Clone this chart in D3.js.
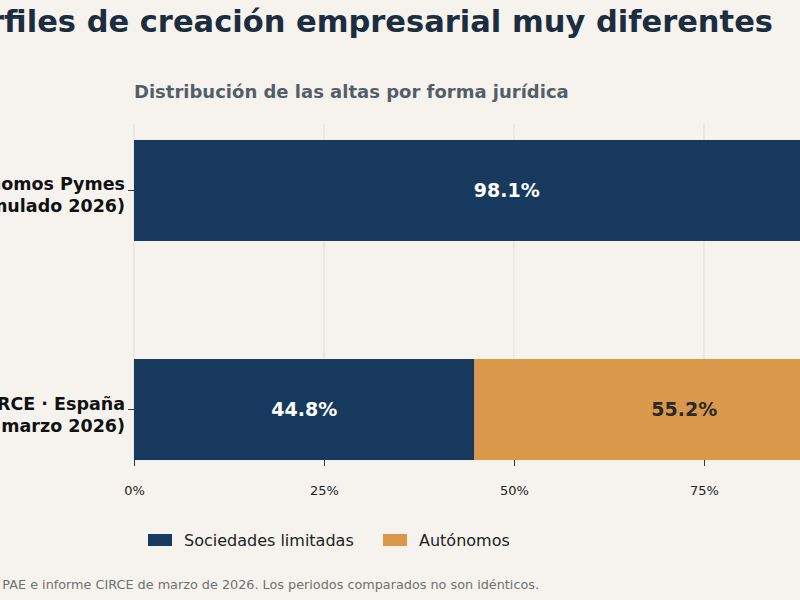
<!DOCTYPE html>
<html><head><meta charset="utf-8">
<script src="https://cdn.jsdelivr.net/npm/d3@7"></script>
<style>body{margin:0;background:#f6f3ee}svg{display:block;font-family:"DejaVu Sans",sans-serif}</style>
</head><body><svg id="c" width="800" height="600"></svg>
<script>
const categories = [["Autónomos Pymes","(acumulado 2026)"],["CIRCE · España","(marzo 2026)"]];
const seriesNames = ["Sociedades limitadas","Autónomos"];
const sociedades = [98.1, 44.8];
const autonomos = [1.9, 55.2];
const ticks = [0,25,50,75,100];
const colors = ["#17395d","#d9984a"];

const svg = d3.select("#c");
svg.append("rect").attr("width",800).attr("height",600).attr("fill","#f6f3ee");
const x = d3.scaleLinear().domain([0,100]).range([134,894]);
const y = d3.scaleBand().domain([0,1]).range([124,476]).paddingInner(0.539).paddingOuter(0.073);

svg.append("text").attr("x",773).attr("y",32).attr("text-anchor","end").attr("font-size",30.5).attr("font-weight","bold").attr("fill","#1b2d3e").text("Perfiles de creación empresarial muy diferentes");
svg.append("text").attr("x",134).attr("y",98).attr("font-size",18).attr("font-weight","bold").attr("fill","#545e68").text("Distribución de las altas por forma jurídica");

svg.selectAll(".g").data(ticks).join("line").attr("x1",d=>x(d)).attr("x2",d=>x(d)).attr("y1",124).attr("y2",460).attr("stroke","#e2ddd5").attr("stroke-width",1);

const stacks = [sociedades, autonomos];
stacks.forEach((vals,si)=>{
  vals.forEach((v,i)=>{
    const start = si===0?0:sociedades[i];
    svg.append("rect").attr("x",x(start)).attr("y",y(i)).attr("width",x(start+v)-x(start)).attr("height",y.bandwidth()).attr("fill",colors[si]);
    if(v>5) svg.append("text").attr("x",(x(start)+x(start+v))/2).attr("y",y(i)+y.bandwidth()/2).attr("dy","0.35em").attr("text-anchor","middle").attr("font-size",19).attr("font-weight","bold").attr("fill",si===0?"#ffffff":"#2a2a2a").text(v.toFixed(1)+"%");
  });
});

const xa = svg.append("g").attr("transform","translate(0,460)").call(d3.axisBottom(x).tickValues(ticks).tickFormat(d=>d+"%").tickSize(6).tickSizeOuter(0));
xa.select(".domain").remove();
xa.selectAll("line").attr("stroke","#333");
xa.selectAll("text").attr("font-size",13).attr("fill","#222").attr("dy","2em").attr("font-family","DejaVu Sans");

categories.forEach((c,i)=>{
  const cy = y(i)+y.bandwidth()/2;
  svg.append("line").attr("x1",128).attr("x2",134).attr("y1",cy).attr("y2",cy).attr("stroke","#333");
  const t = svg.append("text").attr("x",125).attr("text-anchor","end").attr("font-size",17.5).attr("font-weight","bold").attr("fill","#111");
  t.append("tspan").attr("x",125).attr("y",cy).text(c[0]);
  t.append("tspan").attr("x",125).attr("y",cy+22).text(c[1]);
});

const lx=[148,383];
seriesNames.forEach((n,i)=>{
  svg.append("rect").attr("x",lx[i]).attr("y",534).attr("width",24).attr("height",12).attr("fill",colors[i]);
  svg.append("text").attr("x",lx[i]+36).attr("y",546).attr("font-size",16).attr("fill","#222").text(n);
});

svg.append("text").attr("x",539).attr("y",589).attr("text-anchor","end").attr("font-size",12.8).attr("fill","#707070").text("Fuente: elaboración propia a partir de datos del PAE e informe CIRCE de marzo de 2026. Los periodos comparados no son idénticos.");
</script></body></html>
